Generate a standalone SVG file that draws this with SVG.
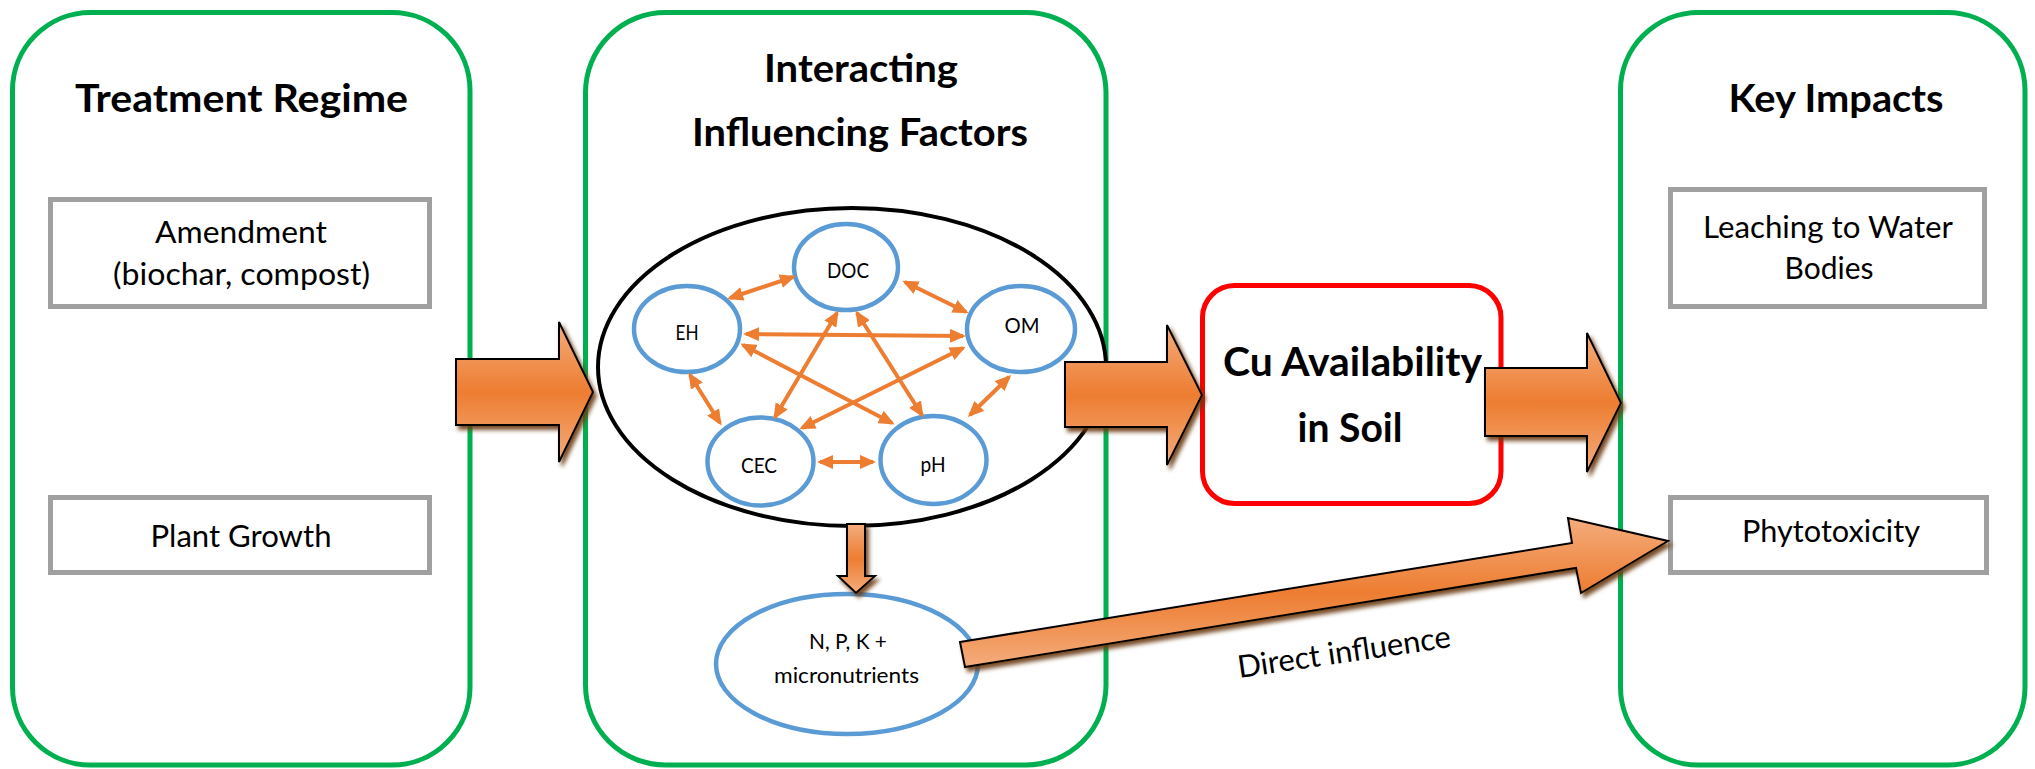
<svg xmlns="http://www.w3.org/2000/svg" width="2035" height="769" viewBox="0 0 2035 769">
  <defs>
    <style>
      .panel { fill: #FFFFFF; stroke: #00B050; stroke-width: 5; }
      .item { fill: #FFFFFF; stroke: #A0A0A0; stroke-width: 5; }
      .factor { fill: #FFFFFF; stroke: #5B9BD5; stroke-width: 4.5; }
      .hub { fill: #FFFFFF; stroke: #000000; stroke-width: 4; }
      .core { fill: #FFFFFF; stroke: #FF0000; stroke-width: 5; }
      .block { fill: url(#orangeGrad); stroke: #000000; stroke-width: 2; stroke-linejoin: miter; filter: url(#shadow); }
      .link { fill: none; stroke: #ED7D31; stroke-width: 4; marker-start: url(#tip); marker-end: url(#tip); }
      text { font-family: Lato, "Open Sans", sans-serif; fill: #000000; text-anchor: middle; }
      .title { font-weight: 700; font-size: 39px; }
      .label { font-size: 31px; }
      .small { font-size: 22px; }
      .core-text { font-weight: 700; font-size: 40px; }
    </style>
    <linearGradient id="orangeGrad" x1="0" y1="0" x2="0" y2="1">
      <stop offset="0" stop-color="#F4AC7C"/>
      <stop offset="0.5" stop-color="#ED7D31"/>
      <stop offset="1" stop-color="#F4AC7C"/>
    </linearGradient>
    <filter id="shadow" x="-10%" y="-10%" width="130%" height="140%">
      <feGaussianBlur in="SourceAlpha" stdDeviation="2"/>
      <feOffset dx="3" dy="4" result="blur"/>
      <feFlood flood-color="#6B3A12" flood-opacity="0.9"/>
      <feComposite in2="blur" operator="in"/>
      <feMerge>
        <feMergeNode/>
        <feMergeNode in="SourceGraphic"/>
      </feMerge>
    </filter>
    <marker id="tip" viewBox="0 0 16 14" markerWidth="16" markerHeight="14" refX="13" refY="7" orient="auto-start-reverse" markerUnits="userSpaceOnUse">
      <path d="M0,0 L16,7 L0,14 Z" fill="#ED7D31"/>
    </marker>
  </defs>

  <rect width="2035" height="769" fill="#FFFFFF"/>

  <!-- Treatment regime column -->
  <g id="treatment-regime">
    <rect class="panel" x="12.5" y="12.5" width="457.5" height="752.5" rx="78" ry="78"/>
    <text class="title" x="241.5" y="112" textLength="333" lengthAdjust="spacingAndGlyphs">Treatment Regime</text>
  </g>
  <g id="amendment">
    <rect class="item" x="50.5" y="199.5" width="379" height="107"/>
    <text class="label" x="241" y="243" textLength="172" lengthAdjust="spacingAndGlyphs">Amendment</text>
    <text class="label" x="241.5" y="285" textLength="257" lengthAdjust="spacingAndGlyphs">(biochar, compost)</text>
  </g>
  <g id="plant-growth">
    <rect class="item" x="50.5" y="497.5" width="379" height="75"/>
    <text class="label" x="241" y="547" textLength="181" lengthAdjust="spacingAndGlyphs">Plant Growth</text>
  </g>

  <!-- Interacting factors column -->
  <g id="influencing-factors">
    <rect class="panel" x="585.5" y="12.5" width="520.5" height="752.5" rx="80" ry="80"/>
    <text class="title" x="861" y="82" textLength="194" lengthAdjust="spacingAndGlyphs">Interacting</text>
    <text class="title" x="860" y="146" textLength="336" lengthAdjust="spacingAndGlyphs">Influencing Factors</text>
  </g>
  <g id="factor-cluster">
    <ellipse class="hub" cx="852" cy="367" rx="254" ry="159"/>
  </g>
  <g id="doc">
    <ellipse class="factor" cx="846" cy="267" rx="52" ry="43"/>
    <text class="small" x="848" y="278" textLength="42" lengthAdjust="spacingAndGlyphs">DOC</text>
  </g>
  <g id="eh">
    <ellipse class="factor" cx="687" cy="329" rx="53" ry="43"/>
    <text class="small" x="687" y="340" textLength="23" lengthAdjust="spacingAndGlyphs">EH</text>
  </g>
  <g id="om">
    <ellipse class="factor" cx="1021" cy="329" rx="54" ry="43"/>
    <text class="small" x="1022" y="333" textLength="35" lengthAdjust="spacingAndGlyphs">OM</text>
  </g>
  <g id="cec">
    <ellipse class="factor" cx="760.5" cy="461.5" rx="53" ry="44"/>
    <text class="small" x="759" y="473" textLength="36" lengthAdjust="spacingAndGlyphs">CEC</text>
  </g>
  <g id="ph">
    <ellipse class="factor" cx="933.5" cy="460" rx="53" ry="44"/>
    <text class="small" x="933" y="472" textLength="25" lengthAdjust="spacingAndGlyphs">pH</text>
  </g>
  <g id="nutrients">
    <ellipse class="factor" cx="847" cy="664" rx="131" ry="70"/>
    <text class="small" x="848" y="649" textLength="78" lengthAdjust="spacingAndGlyphs">N, P, K +</text>
    <text class="small" x="846.5" y="683" textLength="145" lengthAdjust="spacingAndGlyphs">micronutrients</text>
  </g>

  <!-- Central outcome -->
  <g id="cu-availability">
    <rect class="core" x="1202.5" y="285.5" width="298.5" height="218" rx="32" ry="32"/>
    <text class="core-text" x="1352.5" y="376" textLength="259" lengthAdjust="spacingAndGlyphs">Cu Availability</text>
    <text class="core-text" x="1350" y="442" textLength="105" lengthAdjust="spacingAndGlyphs">in Soil</text>
  </g>

  <!-- Impacts column -->
  <g id="key-impacts">
    <rect class="panel" x="1620.5" y="12.5" width="404.5" height="752.5" rx="78" ry="78"/>
    <text class="title" x="1836" y="112" textLength="215" lengthAdjust="spacingAndGlyphs">Key Impacts</text>
  </g>
  <g id="leaching">
    <rect class="item" x="1670.5" y="189.5" width="314" height="117"/>
    <text class="label" x="1828" y="238" textLength="250" lengthAdjust="spacingAndGlyphs">Leaching to Water</text>
    <text class="label" x="1829" y="279" textLength="89" lengthAdjust="spacingAndGlyphs">Bodies</text>
  </g>
  <g id="phytotoxicity">
    <rect class="item" x="1670.5" y="497.5" width="316" height="75"/>
    <text class="label" x="1831" y="542" textLength="178" lengthAdjust="spacingAndGlyphs">Phytotoxicity</text>
  </g>

  <!-- Connectors -->
  <g id="connectors">
    <!-- two-way interactions between factors -->
    <line class="link" x1="730" y1="298" x2="793" y2="277"/>
    <line class="link" x1="905" y1="282" x2="966" y2="312"/>
    <line class="link" x1="746" y1="334" x2="963" y2="336"/>
    <line class="link" x1="743" y1="345" x2="892" y2="423"/>
    <line class="link" x1="963" y1="348" x2="802" y2="428"/>
    <line class="link" x1="837" y1="313" x2="775" y2="417"/>
    <line class="link" x1="857" y1="313" x2="922" y2="415"/>
    <line class="link" x1="690" y1="375" x2="720" y2="423"/>
    <line class="link" x1="1009" y1="377" x2="970" y2="415"/>
    <line class="link" x1="820" y1="462" x2="873" y2="462"/>

    <!-- block arrows -->
    <path class="block" d="M456,359 H559 V322 L593,392 L559,462 V425 H456 Z"/>
    <path class="block" d="M1065,362 H1167 V325 L1202,395 L1167,465 V427 H1065 Z"/>
    <path class="block" d="M1485,368 H1587 V333 L1621,403 L1587,472 V436 H1485 Z"/>
    <path class="block" d="M847,524 H865 V576 H875 L856,593 L838,576 H847 Z"/>
    <path class="block" d="M960,642 L1572,543 L1568,518 L1668,541 L1581,593 L1576,568 L965,667 Z"/>
    <text class="label" x="1345.5" y="662.5" transform="rotate(-8.3 1345.5 662.5)" textLength="215" lengthAdjust="spacingAndGlyphs">Direct influence</text>
  </g>
</svg>
